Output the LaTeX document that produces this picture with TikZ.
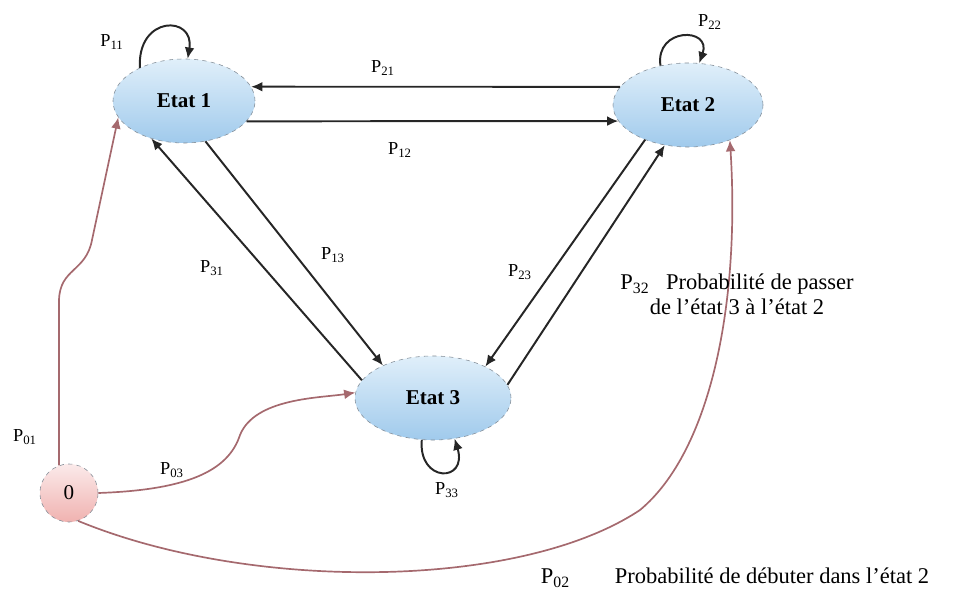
\documentclass[tikz,border=0pt]{standalone}
\usepackage{fontspec}
\setmainfont{Liberation Serif}
\usetikzlibrary{arrows.meta,shapes.geometric}
\definecolor{EtatTop}{RGB}{224,239,250}
\definecolor{EtatBottom}{RGB}{160,202,236}
\definecolor{ZeroTop}{RGB}{251,234,234}
\definecolor{ZeroBottom}{RGB}{240,178,176}
\definecolor{EdgeGray}{RGB}{130,140,150}
\definecolor{StartRed}{RGB}{165,105,110}
\newcommand{\prob}[1]{P\textsubscript{#1}}

\begin{document}
\begin{tikzpicture}[x=0.025cm,y=-0.025cm,>={Latex[length=8pt,width=7pt]}]
    \tikzset{
      etat/.style={ellipse,draw=EdgeGray,dashed,thin,top color=EtatTop,bottom color=EtatBottom,
        minimum height=2.1cm,font=\fontsize{15}{18}\selectfont\bfseries},
      zero/.style={circle,draw=EdgeGray,dashed,thin,top color=ZeroTop,bottom color=ZeroBottom,
        minimum size=1.45cm,font=\fontsize{15}{18}\selectfont},
      trans/.style={->,line width=1.4pt,black!85},
      init/.style={->,line width=1.2pt,StartRed},
      lab/.style={font=\fontsize{13}{15}\selectfont},
      note/.style={font=\fontsize{16}{17.5}\selectfont}
    }
    \useasboundingbox (0,0) rectangle (965,596);
    % states
    \node[etat,minimum width=3.55cm] (e1) at (184,101) {Etat 1};
    \node[etat,minimum width=3.75cm] (e2) at (688,105) {Etat 2};
    \node[etat,minimum width=3.9cm] (e3) at (433,398) {Etat 3};
    \node[zero] (z) at (69,493) {0};
    % self loops
    \draw[trans] (e1.143) .. controls (137,15) and (195,15) .. (e1.85);
    \draw[trans] (e2.125) .. controls (655,27) and (712,27) .. (e2.75);
    \draw[trans] (e3.-105) .. controls (418,483) and (468,483) .. (e3.-62);
    % between states
    \draw[trans] (e2.165) -- (e1.12);
    \draw[trans] (e1.-18) -- (e2.-167);
    \draw[trans] (e3.166) -- (e1.229);
    \draw[trans] (e1.-62) -- (e3.147);
    \draw[trans] (e2.219) -- (e3.31);
    \draw[trans] (e3.10) -- (e2.-120);
    % from 0
    \draw[init] (z.110) -- (59,300) .. controls (60,268) and (86,272) .. (92,240) -- (e1.194);
    \draw[init] (z.east) .. controls (185,490) and (228,472) .. (240,435)
      .. controls (255,398) and (320,398) .. (e3.176);
    \draw[init] (z.-72) .. controls (250,592) and (520,590) .. (640,510)
      .. controls (712,450) and (740,300) .. (e2.-40);
    % labels
    \node[lab] (l11) at (112,42) {\prob{11}};
    \node[lab] (l22) at (710,22) {\prob{22}};
    \node[lab] (l33) at (447,490) {\prob{33}};
    \node[lab] (l21) at (383,68) {\prob{21}};
    \node[lab] (l12) at (400,150) {\prob{12}};
    \node[lab] (l31) at (212,268) {\prob{31}};
    \node[lab] (l13) at (333,255) {\prob{13}};
    \node[lab] (l23) at (520,272) {\prob{23}};
    \node[lab] (l01) at (25,437) {\prob{01}};
    \node[lab] (l03) at (172,470) {\prob{03}};
    \node[note,align=center] (n32) at (737,294)
      {\prob{32}\enspace\ Probabilité de passer\\de l'état 3 à l'état 2};
    \node[note,anchor=west] (n02) at (536,578)
      {\prob{02}\qquad Probabilité de débuter dans l'état 2};
\end{tikzpicture}
\end{document}
